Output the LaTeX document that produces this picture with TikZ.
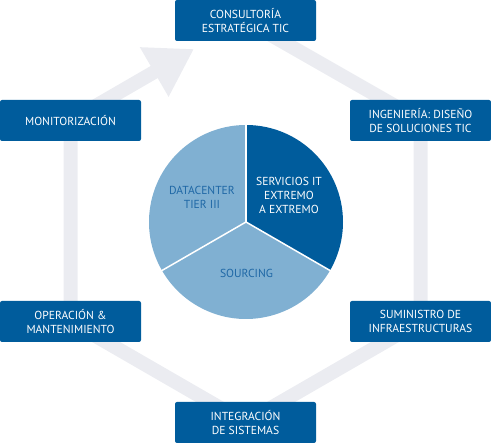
\documentclass[tikz,border=0pt]{standalone}
\usepackage{fontspec}
\setmainfont{PT Sans}
\usetikzlibrary{arrows.meta,backgrounds}

\definecolor{boxblue}{HTML}{005C9C}
\definecolor{lightslice}{HTML}{80B0D2}
\definecolor{slicetext}{HTML}{1F68A6}
\definecolor{trackgrey}{HTML}{EBECF1}
\newcommand{\rpie}{97}
\tikzset{
  stage/.style={fill=boxblue,rounded corners=2pt,minimum width=141pt,minimum height=41pt,
    text=white,align=center,font=\fontsize{11.6}{13.5}\selectfont,inner sep=0pt},
  track/.style={trackgrey,line width=14pt},
  slicelabel/.style={align=center,font=\fontsize{11.6}{14}\selectfont,inner sep=0pt}
}

\begin{document}
\begin{tikzpicture}[x=1pt,y=1pt]
    \useasboundingbox (0,0) rectangle (491,443);
    % the six stages round the cycle
    \node[stage] (consultoria) at (245.5,422.5) {CONSULTORÍA\\ESTRATÉGICA TIC};
    \node[stage] (ingenieria) at (420.5,322.5) {INGENIERÍA: DISEÑO\\DE SOLUCIONES TIC};
    \node[stage] (suministro) at (420.5,121.5) {SUMINISTRO DE\\INFRAESTRUCTURAS};
    \node[stage] (integracion) at (245.5,20.5) {INTEGRACIÓN\\DE SISTEMAS};
    \node[stage] (operacion) at (70.5,121.5) {OPERACIÓN \&\\MANTENIMIENTO};
    \node[stage] (monitor) at (70.5,322.5) {MONITORIZACIÓN};
    \coordinate (tip) at (194,394);
    % grey track behind the boxes
    \begin{scope}[on background layer]
        \draw[track] (consultoria.center) -- (ingenieria.center) -- (suministro.center)
            -- (integracion.center) -- (operacion.center) -- (monitor.center);
        \draw[track,-{Triangle[length=46pt,width=54pt]}] (monitor.center) -- (tip);
    \end{scope}
    % the pie in the middle
    \coordinate (pie) at (246,221);
    \fill[boxblue] (pie) -- ++(90:\rpie) arc (90:-30:\rpie) -- cycle;
    \fill[lightslice] (pie) -- ++(-30:\rpie) arc (-30:-150:\rpie) -- cycle;
    \fill[lightslice] (pie) -- ++(210:\rpie) arc (210:90:\rpie) -- cycle;
    \foreach \a in {90,-30,210}
        \draw[white,line width=1.5pt] (pie) -- ++(\a:\rpie+1);
    \node[slicelabel,text=white] (servicios) at (289,248) {SERVICIOS IT\\EXTREMO\\A EXTREMO};
    \node[slicelabel,text=slicetext] (datacenter) at (202,246) {DATACENTER\\TIER III};
    \node[slicelabel,text=slicetext] (sourcing) at (246.5,170) {SOURCING};
\end{tikzpicture}
\end{document}
